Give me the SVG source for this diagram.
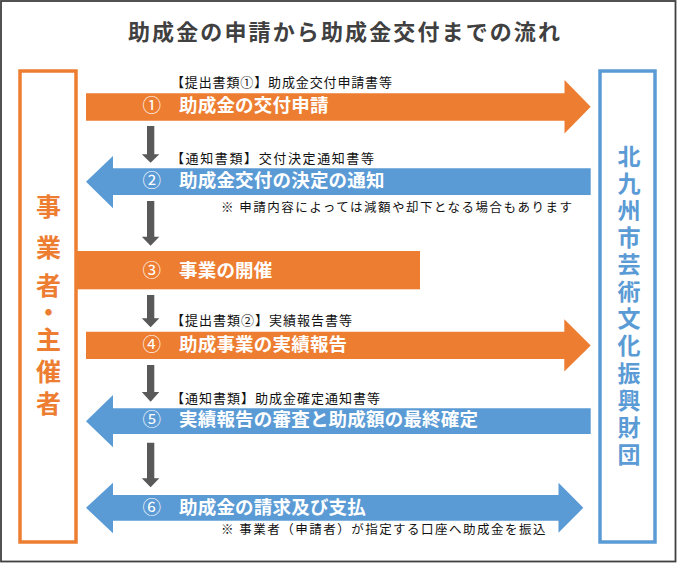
<svg xmlns="http://www.w3.org/2000/svg" width="677" height="563" viewBox="0 0 677 563">
<style>
  text { font-family: "Noto Sans CJK JP", "Noto Sans", sans-serif; }
  .title { font-size: 22px; font-weight: bold; fill: #404040; }
  .or { fill: #ED7D31; }
  .bl { fill: #5B9BD5; }
  .bar { font-size: 18.5px; font-weight: bold; fill: #FFFFFF; letter-spacing: 0.2px; }
  .num { font-size: 18.5px; font-weight: normal; fill: #FFFFFF; text-anchor: middle; }
  .lab { font-size: 13px; fill: #111111; }
  .note { font-size: 12.5px; fill: #111111; }
  .vl { font-size: 25px; font-weight: bold; fill: #ED7D31; writing-mode: vertical-rl; }
  .vr { font-size: 23px; font-weight: bold; fill: #5B9BD5; writing-mode: vertical-rl; letter-spacing: 4.1px; }
  .down { fill: #595959; }
</style>
<rect x="1" y="1" width="674.5" height="560.5" fill="#FFFFFF" stroke="#404040" stroke-width="1.8"/>
<g id="title">
  <text class="title" x="128" y="39.5" textLength="432" lengthAdjust="spacing">助成金の申請から助成金交付までの流れ</text>
</g>
<g id="node-applicant">
  <rect x="20" y="71" width="56" height="471" fill="none" stroke="#ED7D31" stroke-width="3.5"/>
  <text class="vl" x="48.5" y="193.5"><tspan y="193.5">事</tspan><tspan y="234.5">業</tspan><tspan y="272.5">者</tspan><tspan y="299.5">・</tspan><tspan y="327">主</tspan><tspan y="358.5">催</tspan><tspan y="390.5">者</tspan></text>
</g>
<g id="node-foundation">
  <rect x="600" y="71" width="55" height="471" fill="none" stroke="#5B9BD5" stroke-width="3.5"/>
  <text class="vr" x="629" y="144.5">北九州市芸術文化振興財団</text>
</g>
<g id="step1">
  <polygon class="or" points="86,93.3 564.5,93.3 564.5,80 590.7,106.8 564.5,133.5 564.5,120.7 86,120.7"/>
  <text class="lab" x="171" y="87.4" textLength="221" lengthAdjust="spacing">【提出書類①】助成金交付申請書等</text>
  <text class="num" x="151.7" y="112">①</text>
  <text class="bar" x="179" y="112">助成金の交付申請</text>
</g>
<g id="step2">
  <polygon class="bl" points="86,181.8 113,156 113,168.3 590.7,168.3 590.7,195 113,195 113,208.3"/>
  <text class="lab" x="171" y="163" textLength="203" lengthAdjust="spacing">【通知書類】交付決定通知書等</text>
  <text class="num" x="151.7" y="187.4">②</text>
  <text class="bar" x="179" y="187.4">助成金交付の決定の通知</text>
  <text class="note" x="221" y="212.2" textLength="351" lengthAdjust="spacing">※ 申請内容によっては減額や却下となる場合もあります</text>
</g>
<g id="step3">
  <rect class="or" x="76" y="251" width="344" height="38.3"/>
  <text class="num" x="151.7" y="277">③</text>
  <text class="bar" x="179" y="277">事業の開催</text>
</g>
<g id="step4">
  <polygon class="or" points="86,331.7 564.3,331.7 564.3,319.3 590.7,345.4 564.3,371.6 564.3,359 86,359"/>
  <text class="lab" x="171" y="324.9" textLength="181" lengthAdjust="spacing">【提出書類②】実績報告書等</text>
  <text class="num" x="151.7" y="351.3">④</text>
  <text class="bar" x="179" y="351.3">助成事業の実績報告</text>
</g>
<g id="step5">
  <polygon class="bl" points="86,421.2 113,395 113,408.3 590.7,408.3 590.7,434 113,434 113,447.3"/>
  <text class="lab" x="171" y="403.2" textLength="209" lengthAdjust="spacing">【通知書類】助成金確定通知書等</text>
  <text class="num" x="151.7" y="426.3">⑤</text>
  <text class="bar" x="179" y="426.3">実績報告の審査と助成額の最終確定</text>
</g>
<g id="step6">
  <polygon class="bl" points="86,507.8 113,482.7 113,495 558.5,495 558.5,482.7 583.3,507.8 558.5,532.7 558.5,520.7 113,520.7 113,533.3"/>
  <text class="num" x="151.7" y="513.5">⑥</text>
  <text class="bar" x="179" y="513.5">助成金の請求及び支払</text>
  <text class="note" x="221" y="534.2" textLength="324.5" lengthAdjust="spacing">※ 事業者（申請者）が指定する口座へ助成金を振込</text>
</g>
<g id="connectors">
  <polygon class="down" points="147,126 154.3,126 154.3,154.3 159.3,154.3 150.6,162.7 141.8,154.3 147,154.3"/>
  <polygon class="down" points="147,201 154.3,201 154.3,236.7 159.3,236.7 150.6,245.7 141.8,236.7 147,236.7"/>
  <polygon class="down" points="147,295 154.3,295 154.3,318.3 159.3,318.3 150.6,327.3 141.8,318.3 147,318.3"/>
  <polygon class="down" points="147,365 154.3,365 154.3,392 159.3,392 150.6,401.7 141.8,392 147,392"/>
  <polygon class="down" points="147,442.7 154.3,442.7 154.3,478.3 159.3,478.3 150.6,487.3 141.8,478.3 147,478.3"/>
</g>
</svg>
